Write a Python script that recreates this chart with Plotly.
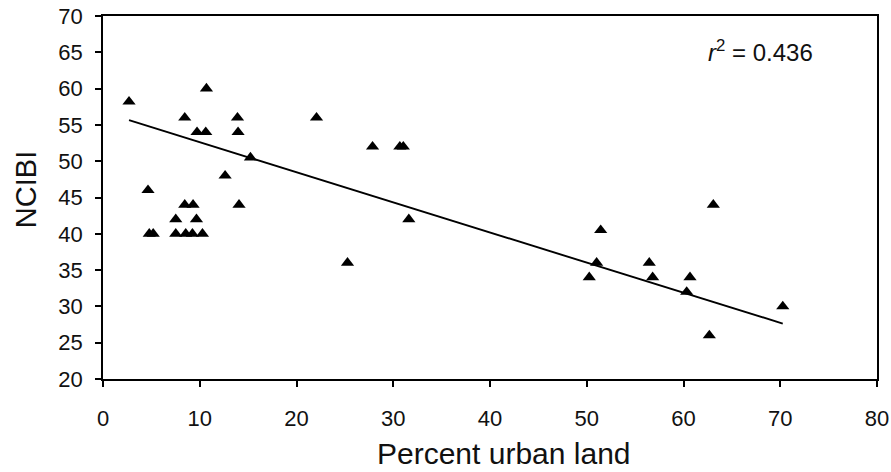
import plotly.graph_objects as go

# Data
urban_pct = [2.69, 10.69, 8.45, 13.9, 9.72, 10.62, 13.96, 15.24, 12.62, 4.65,
             8.45, 9.31, 14.06, 7.52, 9.66, 4.78, 5.19, 7.52, 8.55, 9.24,
             10.28, 22.07, 27.86, 30.68, 31.04, 31.61, 25.27, 50.26, 51.44, 51.02,
             56.46, 56.81, 60.67, 60.33, 63.08, 62.67, 70.26]
ncibi = [58.2, 60.0, 56.0, 56.0, 54.0, 54.0, 54.0, 50.5, 48.0, 46.0,
         44.0, 44.0, 44.0, 42.0, 42.0, 40.0, 40.0, 40.0, 40.0, 40.0,
         40.0, 56.0, 52.0, 52.0, 52.0, 42.0, 36.0, 34.0, 40.5, 36.0,
         36.0, 34.0, 34.0, 32.0, 44.0, 26.0, 30.0]

# Regression line parameters
fit_slope = -0.4147
fit_intercept = 56.77
r_squared = 0.436

x_ticks = [0, 10, 20, 30, 40, 50, 60, 70, 80]
y_ticks = [20, 25, 30, 35, 40, 45, 50, 55, 60, 65, 70]

fit_x = [min(urban_pct), max(urban_pct)]
fit_y = [fit_intercept + fit_slope * v for v in fit_x]

font_family = "Liberation Sans, Arial, sans-serif"

fig = go.Figure()
fig.add_trace(go.Scatter(
    x=fit_x, y=fit_y, mode="lines",
    line=dict(color="black", width=1.9), showlegend=False, hoverinfo="skip"))
fig.add_trace(go.Scatter(
    x=urban_pct, y=ncibi, mode="markers",
    marker=dict(symbol="triangle-up", size=11.5, color="black"),
    showlegend=False))

axis_common = dict(
    showgrid=False, zeroline=False, showline=True, linecolor="black",
    linewidth=1.6, mirror=True, ticks="outside", ticklen=6, tickwidth=1.5,
    automargin=False,
    tickcolor="black", tickfont=dict(family=font_family, size=22, color="#111"))

fig.update_xaxes(range=[0, 80], tickvals=x_ticks, ticklabelstandoff=13, **axis_common)
fig.update_yaxes(range=[20, 70], tickvals=y_ticks, ticklabelstandoff=8, **axis_common)

fig.update_layout(
    width=891, height=472,
    margin=dict(l=103, r=14, t=16, b=93),
    paper_bgcolor="white", plot_bgcolor="white",
    font=dict(family=font_family, color="#111"),
    annotations=[
        dict(text="Percent urban land", xref="paper", yref="paper",
             x=0.518, y=-0.205, xanchor="center", yanchor="middle",
             showarrow=False, font=dict(size=30, family=font_family, color="#111")),
        dict(text="NCIBI", xref="paper", yref="paper",
             x=-0.0995, y=0.523, xanchor="center", yanchor="middle", textangle=-90,
             showarrow=False, font=dict(size=29, family=font_family, color="#111")),
        dict(text="<i>r</i><sup>2</sup> = %.3f" % r_squared, xref="paper", yref="paper",
             x=0.7795, y=0.903, xanchor="left", yanchor="middle",
             showarrow=False, font=dict(size=24, family=font_family, color="#111")),
    ],
)

fig.write_html("out.html", config={"displayModeBar": False},
               post_script="document.body.style.margin='0';")
